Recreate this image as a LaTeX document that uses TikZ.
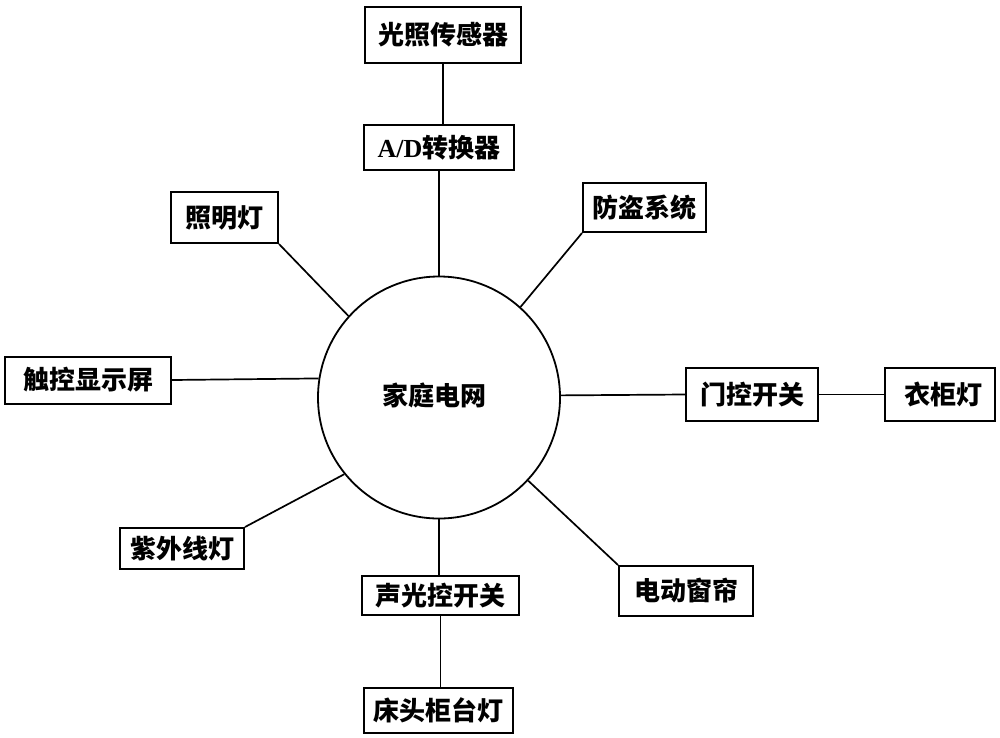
\documentclass[tikz,border=0pt]{standalone}
\usepackage{fontspec}
\newfontfamily\cjk{Noto Sans CJK SC}
\newfontfamily\lat{Liberation Serif}
\begin{document}
\begin{tikzpicture}[x=1pt,y=-1pt,
  bx/.style={draw, line width=2pt, inner sep=0pt, font=\cjk\bfseries\fontsize{26}{26}\selectfont},
  ln/.style={line width=1.7pt}]
\useasboundingbox (0,0) rectangle (1000,737);
\node[draw, circle, line width=1.8pt, minimum size=242pt, inner sep=0pt] (grid) at (439,397.5) {};
\node[font=\cjk\bfseries\fontsize{26}{26}\selectfont] (gridtxt) at (434,395) {家庭电网};
\node[bx, minimum width=156pt, minimum height=56pt] (light) at (443,35) {光照传感器};
\node[bx, minimum width=150pt, minimum height=45pt] (ad) at (439,147.5) {{\lat\bfseries A/D}转换器};
\node[bx, minimum width=107pt, minimum height=51pt] (lamp) at (224.5,217.5) {照明灯};
\node[bx, minimum width=123pt, minimum height=49pt] (guard) at (644.5,207.5) {防盗系统};
\node[bx, minimum width=166pt, minimum height=47pt] (touch) at (88,380) {触控显示屏};
\node[bx, minimum width=132pt, minimum height=53pt] (door) at (752,394.5) {门控开关};
\node[bx, minimum width=110pt, minimum height=53pt] (ward) at (940,394.5) {\hspace{6pt}衣柜灯};
\node[bx, minimum width=124pt, minimum height=41pt] (uv) at (182,548.5) {紫外线灯};
\node[bx, minimum width=157pt, minimum height=39pt] (sound) at (440.5,595.5) {声光控开关};
\node[bx, minimum width=134pt, minimum height=50pt] (curtain) at (686,591) {电动窗帘};
\node[bx, minimum width=149pt, minimum height=45pt] (bed) at (438.5,710.5) {床头柜台灯};
\draw[ln] (light.south) -- (light.south |- ad.north);
\draw[ln] (ad.south) -- (grid.north);
\draw[ln] (lamp.south east) -- (grid.138.1);
\draw[ln] (guard.south west) -- (grid.48.8);
\draw[ln] (touch.east) -- (grid.171.7);
\draw[ln] (grid.1.7) -- (door.west);
\draw[ln] (door.east) -- (ward.west);
\draw[ln] (uv.north east) -- (grid.219.5);
\draw[ln] (curtain.north west) -- (grid.-43.5);
\draw[ln] (grid.south) -- (grid.south |- sound.north);
\draw[ln] (sound.south) -- (sound.south |- bed.north);
\end{tikzpicture}
\end{document}
